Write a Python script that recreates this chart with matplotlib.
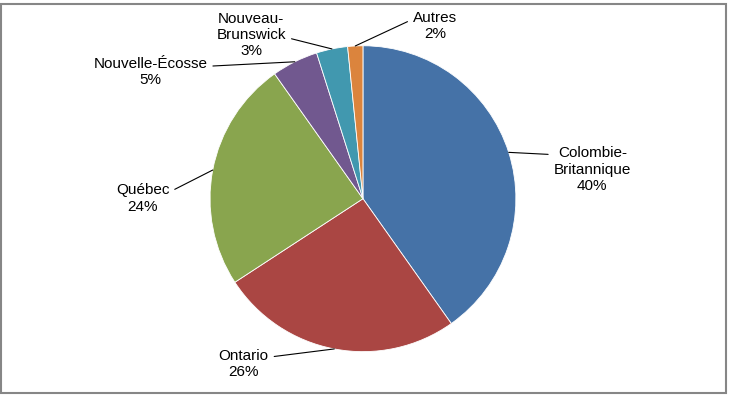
import numpy as np
import matplotlib.pyplot as plt
from matplotlib.patches import Rectangle

plt.rcParams['font.family'] = ['Liberation Sans', 'DejaVu Sans']

# data, in clockwise order from 12 o'clock
provinces = ['Colombie-\nBritannique', 'Ontario', 'Québec', 'Nouvelle-Écosse',
             'Nouveau-\nBrunswick', 'Autres']
shares = [40.2, 25.6, 24.4, 4.9, 3.3, 1.6]
pct_labels = ['40%', '26%', '24%', '5%', '3%', '2%']
colors = ['#4572A7', '#AA4643', '#89A54E', '#71588F', '#4198AF', '#DB843D']

# label positions (in pie radius units) and where the leader meets the text
label_pos = [(1.50, 0.19), (-0.78, -1.08), (-1.44, 0.0), (-1.39, 0.83),
             (-0.73, 1.07), (0.47, 1.13)]
attach = [(0, 0.82), (1, 0.72), (1, 0.72), (1, 0.68), (1, 0.45), (0, 0.72)]

fig = plt.figure(figsize=(7.30, 3.97), dpi=100)
fig.patches.append(Rectangle((1 / 730, 4 / 397), 725 / 730, 389 / 397,
                             transform=fig.transFigure, fill=False,
                             edgecolor='#868686', lw=1.5))

ax = fig.add_axes([0.2877, 0.114, 0.419, 0.771])
wedges, _ = ax.pie(shares, colors=colors, startangle=90, counterclock=False,
                   wedgeprops=dict(edgecolor='white', linewidth=0.6))
ax.set_xlim(-1, 1)
ax.set_ylim(-1, 1)
ax.set_aspect('equal')
ax.axis('off')

for w, name, pct, (tx, ty), rp in zip(wedges, provinces, pct_labels, label_pos, attach):
    mid = np.deg2rad((w.theta1 + w.theta2) / 2)
    ax.annotate(name + '\n' + pct, xy=(np.cos(mid), np.sin(mid)), xytext=(tx, ty),
                ha='center', va='center', fontsize=11, linespacing=1.22,
                annotation_clip=False,
                arrowprops=dict(arrowstyle='-', color='black', lw=0.8,
                                shrinkA=2, shrinkB=0, relpos=rp))

fig.savefig('out.png', dpi=100)
